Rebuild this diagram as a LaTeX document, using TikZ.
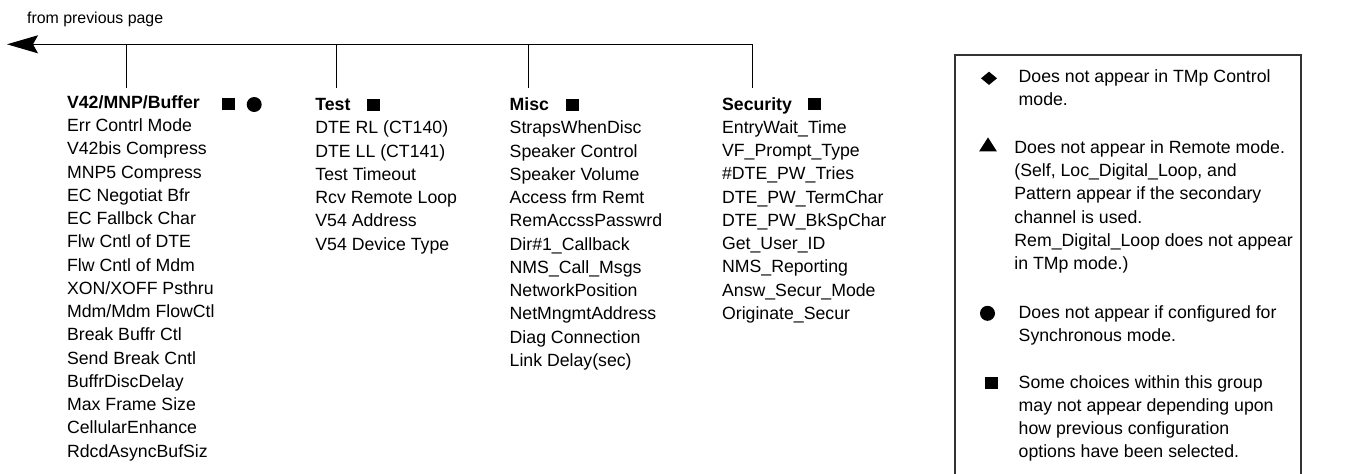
\documentclass[tikz,border=0pt]{standalone}
\usepackage{fontspec}
\setmainfont{Liberation Sans}
\usetikzlibrary{arrows.meta,shapes.geometric}
\begin{document}
\begin{tikzpicture}[x=0.5pt,y=-0.5pt,
  txt/.style={anchor=base west, inner sep=0pt, font=\fontsize{8.85}{10.6}\selectfont},
  hdr/.style={anchor=base west, inner sep=0pt, font=\fontsize{8.85}{10.6}\selectfont\bfseries},
  smalltxt/.style={anchor=base west, inner sep=0pt, font=\fontsize{7.95}{9}\selectfont},
  conn/.style={line width=0.55pt, draw=black},
  sqmark/.style={rectangle, fill=black, draw=none, minimum width=6.5pt, minimum height=6pt, inner sep=0pt},
  dotmark/.style={circle, fill=black, draw=none, minimum size=7.5pt, inner sep=0pt},
  diamark/.style={diamond, fill=black, draw=none, minimum width=8pt, minimum height=6.6pt, inner sep=0pt, outer sep=0pt},
  trimark/.style={isosceles triangle, isosceles triangle apex angle=65, shape border rotate=90, fill=black, draw=none, minimum height=7pt, inner sep=0pt},
  legbox/.style={line width=0.8pt, draw=black!80}
]
\useasboundingbox (0,0) rectangle (1345,473);

% top title
\node[smalltxt] (prev) at (26.7,23.3) {from previous page};

% connector junctions
\coordinate (tip) at (7,44.3);
\coordinate (j1) at (126.6,44.3);
\coordinate (j2) at (336.7,44.3);
\coordinate (j3) at (528.7,44.3);
\coordinate (j4) at (752.3,44.3);
\coordinate (d1) at (126.6,88.3);
\coordinate (d2) at (336.7,88.3);
\coordinate (d3) at (528.7,88.3);
\coordinate (d4) at (752.3,88.3);

\draw[conn, -{Stealth[length=15.5pt, width=9pt, inset=2.5pt]}] (j4) -- (tip);
\draw[conn] (j1) -- (d1);
\draw[conn] (j2) -- (d2);
\draw[conn] (j3) -- (d3);
\draw[conn] (j4) -- (d4);

% V42/MNP/Buffer column
\node[hdr] (v42) at (66.7,108) {V42/MNP/Buffer};
\node[sqmark] (v42sq) at (228.3,104.2) {};
\node[dotmark] (v42dot) at (254.2,104.5) {};
\foreach \t [count=\i] in {Err Contrl Mode, V42bis Compress, MNP5 Compress, EC Negotiat Bfr, EC Fallbck Char, Flw Cntl of DTE, Flw Cntl of Mdm, XON/XOFF Psthru, Mdm/Mdm FlowCtl, Break Buffr Ctl, Send Break Cntl, BuffrDiscDelay, Max Frame Size, CellularEnhance, RdcdAsyncBufSiz}
  \node[txt] (v42-\i) at (66.7,{108.3+\i*23.25}) {\t};

% Test column
\node[hdr] (test) at (315,110.7) {Test};
\node[sqmark] (testsq) at (373,104.5) {};
\foreach \t [count=\i] in {DTE RL (CT140), DTE LL (CT141), Test Timeout, Rcv Remote Loop, V54 Address, V54 Device Type}
  \node[txt] (test-\i) at (315,{110.7+\i*23.25}) {\t};

% Misc column
\node[hdr] (misc) at (509.3,110.7) {Misc};
\node[sqmark] (miscsq) at (572.5,104.5) {};
\foreach \t [count=\i] in {StrapsWhenDisc, Speaker Control, Speaker Volume, Access frm Remt, RemAccssPasswrd, Dir\#1\_Callback, NMS\_Call\_Msgs, NetworkPosition, NetMngmtAddress, Diag Connection, Link Delay(sec)}
  \node[txt] (misc-\i) at (509.3,{110.7+\i*23.25}) {\t};

% Security column
\node[hdr] (sec) at (721.7,110) {Security};
\node[sqmark] (secsq) at (814,104.2) {};
\foreach \t [count=\i] in {EntryWait\_Time, VF\_Prompt\_Type, \#DTE\_PW\_Tries, DTE\_PW\_TermChar, DTE\_PW\_BkSpChar, Get\_User\_ID, NMS\_Reporting, Answ\_Secur\_Mode, Originate\_Secur}
  \node[txt] (sec-\i) at (721.7,{110+\i*23.25}) {\t};

% Legend box (open at the bottom edge of the page)
\draw[legbox] (955,480) -- (955,55) -- (1301,55) -- (1301,480);

\node[diamark] (ldia) at (989,78.3) {};
\node[txt] (l1a) at (1018.3,82.3) {Does not appear in TMp Control};
\node[txt] (l1b) at (1018.3,105.3) {mode.};

\node[trimark] (ltri) at (988,146.5) {};
\node[txt] (l2a) at (1014,153.3) {Does not appear in Remote mode.};
\node[txt] (l2b) at (1014,176.5) {(Self, Loc\_Digital\_Loop, and};
\node[txt] (l2c) at (1014,199.8) {Pattern appear if the secondary};
\node[txt] (l2d) at (1014,223) {channel is used.};
\node[txt] (l2e) at (1014,246.3) {Rem\_Digital\_Loop does not appear};
\node[txt] (l2f) at (1014,269.5) {in TMp mode.)};

\node[dotmark] (ldot) at (987.5,313.3) {};
\node[txt] (l3a) at (1018.3,318.3) {Does not appear if configured for};
\node[txt] (l3b) at (1018.3,341.3) {Synchronous mode.};

\node[sqmark] (lsq) at (991.7,382.5) {};
\node[txt] (l4a) at (1018.3,388) {Some choices within this group};
\node[txt] (l4b) at (1018.3,411.3) {may not appear depending upon};
\node[txt] (l4c) at (1018.3,434.6) {how previous configuration};
\node[txt] (l4d) at (1018.3,457.9) {options have been selected.};
\end{tikzpicture}
\end{document}
